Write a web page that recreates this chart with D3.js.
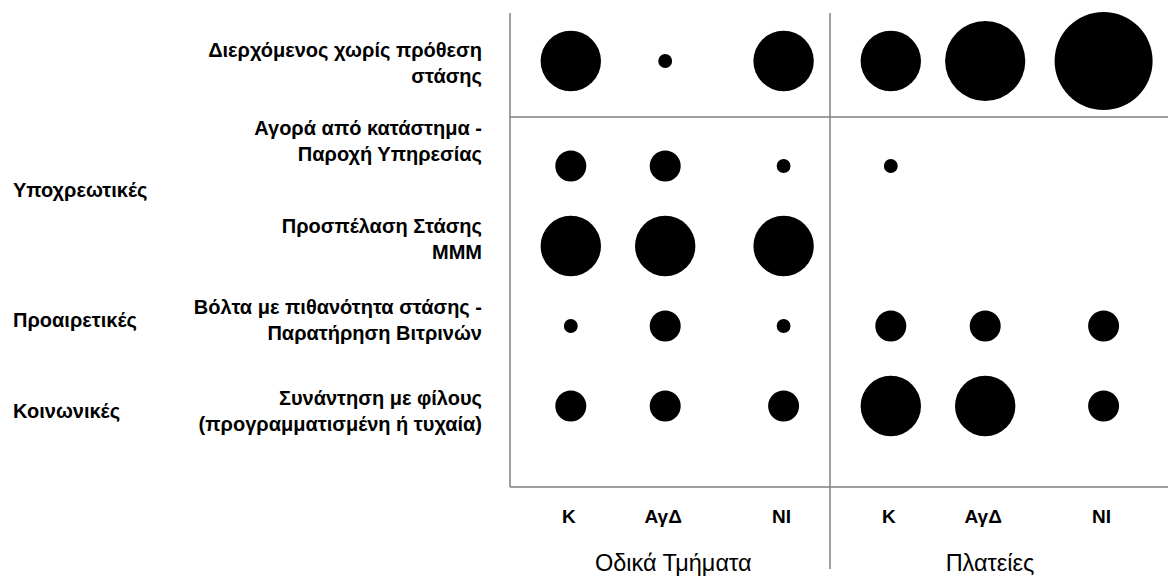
<!DOCTYPE html>
<html>
<head>
<meta charset="utf-8">
<script src="https://cdn.jsdelivr.net/npm/d3@7"></script>
<style>
  body { margin: 0; background: #fff; }
  svg { display: block; }
  text { font-family: "Liberation Sans", Arial, sans-serif; fill: #000; }
  .row-label, .col-label, .cat-label { font-weight: bold; }
</style>
</head>
<body>
<svg id="chart"></svg>
<script>
// Chart data
const groups = ["Οδικά Τμήματα", "Πλατείες"];
const areas = ["Κ", "ΑγΔ", "ΝΙ"];

// Activity rows, each label split over two lines
const activities = [
  ["Διερχόμενος χωρίς πρόθεση", "στάσης"],
  ["Αγορά από κατάστημα -", "Παροχή Υπηρεσίας"],
  ["Προσπέλαση Στάσης", "ΜΜΜ"],
  ["Βόλτα με πιθανότητα στάσης -", "Παρατήρηση Βιτρινών"],
  ["Συνάντηση με φίλους", "(προγραμματισμένη ή τυχαία)"]
];

// Activity categories and the rows they cover
const categories = ["Υποχρεωτικές", "Προαιρετικές", "Κοινωνικές"];
const categoryRows = [[1, 2], [3, 3], [4, 4]];

// Intensity per activity row, columns: Κ, ΑγΔ, ΝΙ (road segments) then Κ, ΑγΔ, ΝΙ (squares)
const passingValues   = [38, 2, 38, 38, 67, 100];
const shoppingValues  = [10, 10, 2, 2, null, null];
const transitValues   = [38, 38, 38, null, null, null];
const strollValues    = [2, 10, 2, 10, 10, 10];
const meetingValues   = [10, 10, 10, 38, 38, 10];
const rowValues = [passingValues, shoppingValues, transitValues, strollValues, meetingValues];

// Layout
const width = 1168;
const height = 576;
const plotLeft = 510;
const plotTop = 13;
const splitY = 117;
const plotBottom = 487;
const labelRight = 482;
const lineColor = "#7f7f7f";

const svg = d3.select("#chart")
  .attr("width", width)
  .attr("height", height);

// Group bands and area positions inside each band
const groupScale = d3.scaleBand()
  .domain(groups)
  .range([plotLeft, 1150]);

const areaScale = d3.scaleLinear()
  .domain([0, 1, 2])
  .range([0.19, 0.485, 0.855].map(f => f * groupScale.bandwidth()));

const xPos = (g, a) => groupScale(groups[g]) + areaScale(a);

// Rows: first row sits alone in the top panel, the rest below the split line
const yScale = d3.scaleLinear()
  .domain([0, 1, activities.length - 1])
  .range([61, 166, 406]);

// Text block offsets relative to the dot rows
const labelShift = [2, -25, -7, -6, 5];

const rScale = d3.scaleSqrt()
  .domain([0, 100])
  .range([0, 49]);

// Frame lines
const frame = svg.append("g")
  .attr("stroke", lineColor)
  .attr("stroke-width", 1.5);

frame.append("line")
  .attr("x1", plotLeft).attr("x2", plotLeft)
  .attr("y1", plotTop).attr("y2", plotBottom);

frame.append("line")
  .attr("x1", groupScale(groups[1])).attr("x2", groupScale(groups[1]))
  .attr("y1", plotTop).attr("y2", 569);

frame.append("line")
  .attr("x1", plotLeft).attr("x2", width)
  .attr("y1", splitY).attr("y2", splitY);

frame.append("line")
  .attr("x1", plotLeft).attr("x2", width)
  .attr("y1", plotBottom).attr("y2", plotBottom);

// Bubbles
const cells = [];
rowValues.forEach((vals, r) => {
  vals.forEach((v, c) => {
    if (v == null) return;
    cells.push({ row: r, group: Math.floor(c / 3), area: c % 3, value: v });
  });
});

svg.append("g")
  .selectAll("circle")
  .data(cells)
  .join("circle")
  .attr("cx", d => xPos(d.group, d.area))
  .attr("cy", d => yScale(d.row))
  .attr("r", d => rScale(d.value))
  .attr("fill", "#000");

// Activity labels, right aligned, two lines
const lineGap = 26;
const rowLabels = svg.append("g")
  .selectAll("text")
  .data(activities)
  .join("text")
  .attr("class", "row-label")
  .attr("text-anchor", "end")
  .attr("font-size", 20);

rowLabels.selectAll("tspan")
  .data((d, i) => d.map((t, j) => ({ t, j, i })))
  .join("tspan")
  .attr("x", labelRight)
  .attr("y", d => yScale(d.i) + labelShift[d.i] + (d.j - 0.5) * lineGap)
  .attr("dy", "0.35em")
  .text(d => d.t);

// Category labels, centred on the rows they cover
svg.append("g")
  .selectAll("text")
  .data(categories)
  .join("text")
  .attr("class", "cat-label")
  .attr("x", 13)
  .attr("font-size", 20)
  .attr("dy", "0.35em")
  .attr("y", (d, i) => {
    const [a, b] = categoryRows[i];
    return (yScale(a) + labelShift[a] + yScale(b) + labelShift[b]) / 2;
  })
  .text(d => d);

// Area labels under each column
const colLabels = [];
groups.forEach((g, gi) => areas.forEach((a, ai) => colLabels.push({ gi, ai, name: a })));

svg.append("g")
  .selectAll("text")
  .data(colLabels)
  .join("text")
  .attr("class", "col-label")
  .attr("text-anchor", "middle")
  .attr("font-size", 19)
  .attr("x", d => xPos(d.gi, d.ai) - 2)
  .attr("y", 516)
  .attr("dy", "0.35em")
  .text(d => d.name);

// Group labels
svg.append("g")
  .selectAll("text")
  .data(groups)
  .join("text")
  .attr("text-anchor", "middle")
  .attr("font-size", 23.5)
  .attr("x", (d, i) => groupScale(d) + [0.51, 0.5][i] * groupScale.bandwidth())
  .attr("y", 563)
  .attr("dy", "0.35em")
  .text(d => d);
</script>
</body>
</html>
